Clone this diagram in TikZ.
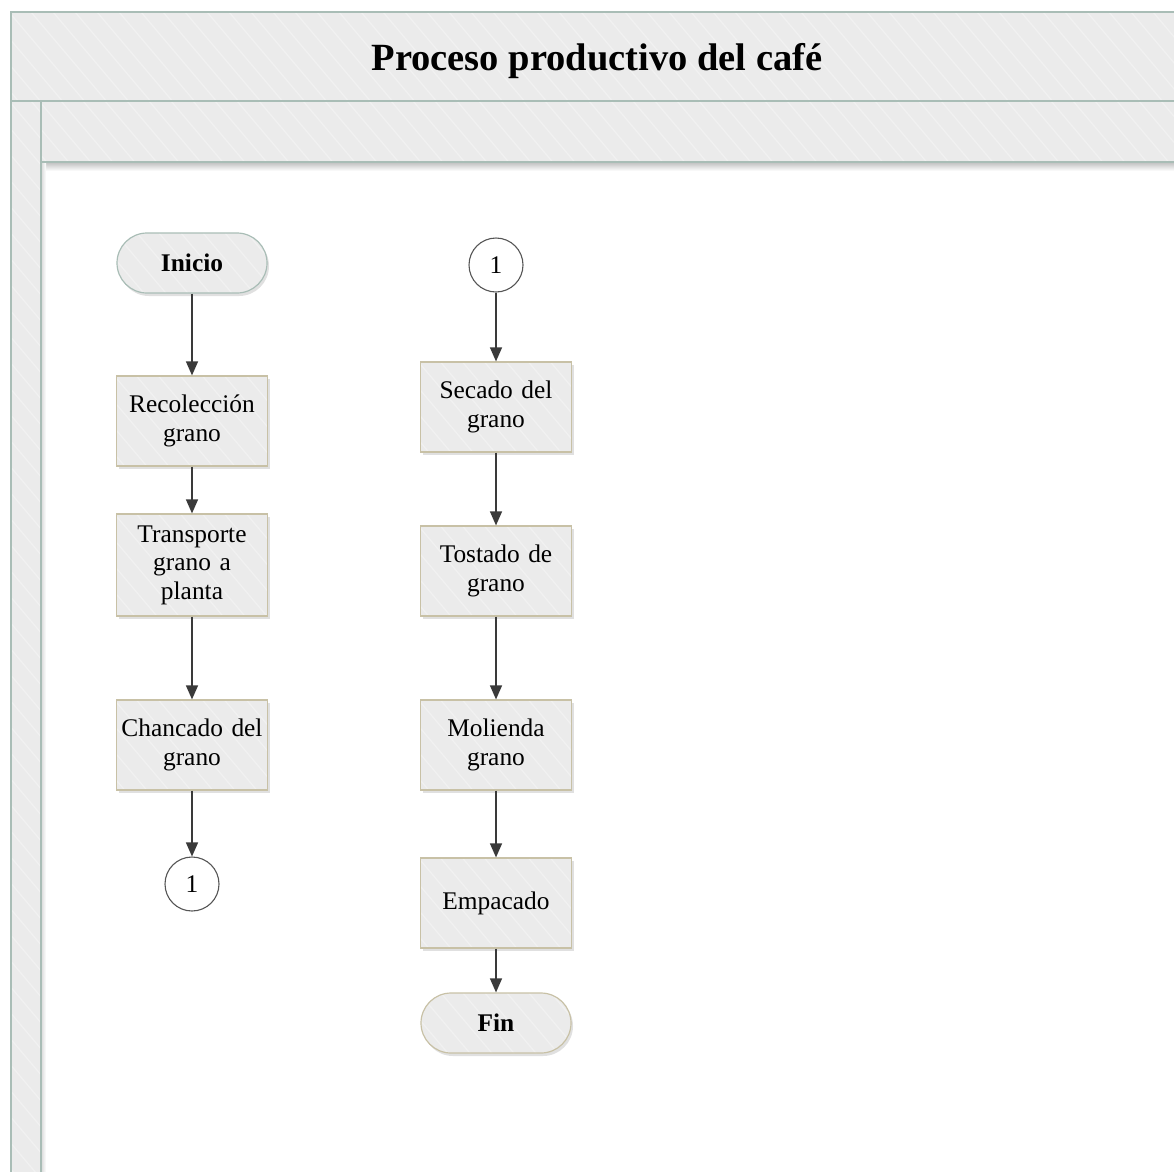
\documentclass[tikz,border=0pt]{standalone}
\usepackage{fontspec}
\setmainfont{Liberation Serif}
\usetikzlibrary{arrows.meta,shadows}

\definecolor{bandfill}{HTML}{EBEBEB}
\definecolor{bandline}{HTML}{A9BDB6}
\definecolor{boxline}{HTML}{C8C1A6}
\definecolor{flowline}{HTML}{3A3A3A}
\definecolor{ringline}{HTML}{555555}

\newcommand\flowfont{\fontsize{25.4}{28.6}\selectfont}
\newcommand\titlefont{\fontsize{38.5}{42}\selectfont\bfseries}

\tikzset{
  stripes/.style={path picture={
      \foreach \s in {-1300,-1278,...,1300}{
        \draw[white,opacity=0.3,line width=1.3pt]
          ([xshift=\s pt]path picture bounding box.north west) -- ++(1100,1300);}}},
  softshadow/.style={drop shadow={shadow xshift=2pt,shadow yshift=-3pt,opacity=0.2,fill=black!60}},
  procbox/.style={rectangle, draw=boxline, line width=1.2pt, fill=bandfill, stripes,
      softshadow, minimum width=151pt, minimum height=90pt, text width=145pt,
      align=center, inner sep=0pt, font=\flowfont},
  startend/.style={rectangle, rounded corners=30pt, line width=1.2pt, fill=bandfill,
      stripes, softshadow, minimum width=150pt, minimum height=60pt,
      inner sep=0pt, font=\flowfont\bfseries},
  offpage/.style={circle, draw=ringline, line width=1.1pt, fill=white,
      minimum size=54pt, inner sep=0pt, font=\flowfont},
  flow/.style={draw=flowline, line width=1.3pt, -{Triangle[width=12pt,length=14pt]}},
  laneline/.style={draw=bandline, line width=1.8pt},
}

\begin{document}
\begin{tikzpicture}[x=1pt,y=-1pt]
  \useasboundingbox (0,0) rectangle (1174,1171);

  % pool frame: title band, lane header band and lane label strip
  \shade[top color=black!25, bottom color=white] (41,162) rectangle (1180,171);
  \shade[left color=black!15, right color=white] (41,162) rectangle (46,1180);
  \path[fill=bandfill, stripes] (11,12) rectangle (1180,101);
  \path[fill=bandfill, stripes] (41,101) rectangle (1180,162);
  \path[fill=bandfill, stripes] (11,101) rectangle (41,1180);
  \draw[laneline] (1180,12) -- (11,12) -- (11,1180);
  \draw[laneline] (11,101) -- (1180,101);
  \draw[laneline] (41,1180) -- (41,101);
  \draw[laneline] (41,162) -- (1180,162);

  \node[anchor=base] (title) at (597,70) {\titlefont Proceso productivo del café};

  % first column
  \node[startend, draw=bandline] (inicio) at (192,263) {Inicio};
  \node[procbox] (recol) at (192,421) {Recolección\\grano};
  \node[procbox, minimum height=102pt] (transp) at (192,565) {Transporte\\grano a\\planta};
  \node[procbox] (chanc) at (192,745) {Chancado del\\grano};
  \node[offpage] (conA) at (192,884) {1};

  % second column
  \node[offpage] (conB) at (496,265) {1};
  \node[procbox] (secado) at (496,407) {Secado del\\grano};
  \node[procbox] (tostado) at (496,571) {Tostado de\\grano};
  \node[procbox] (molienda) at (496,745) {Molienda\\grano};
  \node[procbox] (empacado) at (496,903) {Empacado};
  \node[startend, draw=boxline] (fin) at (496,1023) {Fin};

  % connectors
  \draw[flow] (inicio) -- (recol);
  \draw[flow] (recol) -- (transp);
  \draw[flow] (transp) -- (chanc);
  \draw[flow] (chanc) -- (conA);
  \draw[flow] (conB) -- (secado);
  \draw[flow] (secado) -- (tostado);
  \draw[flow] (tostado) -- (molienda);
  \draw[flow] (molienda) -- (empacado);
  \draw[flow] (empacado) -- (fin);
\end{tikzpicture}
\end{document}
